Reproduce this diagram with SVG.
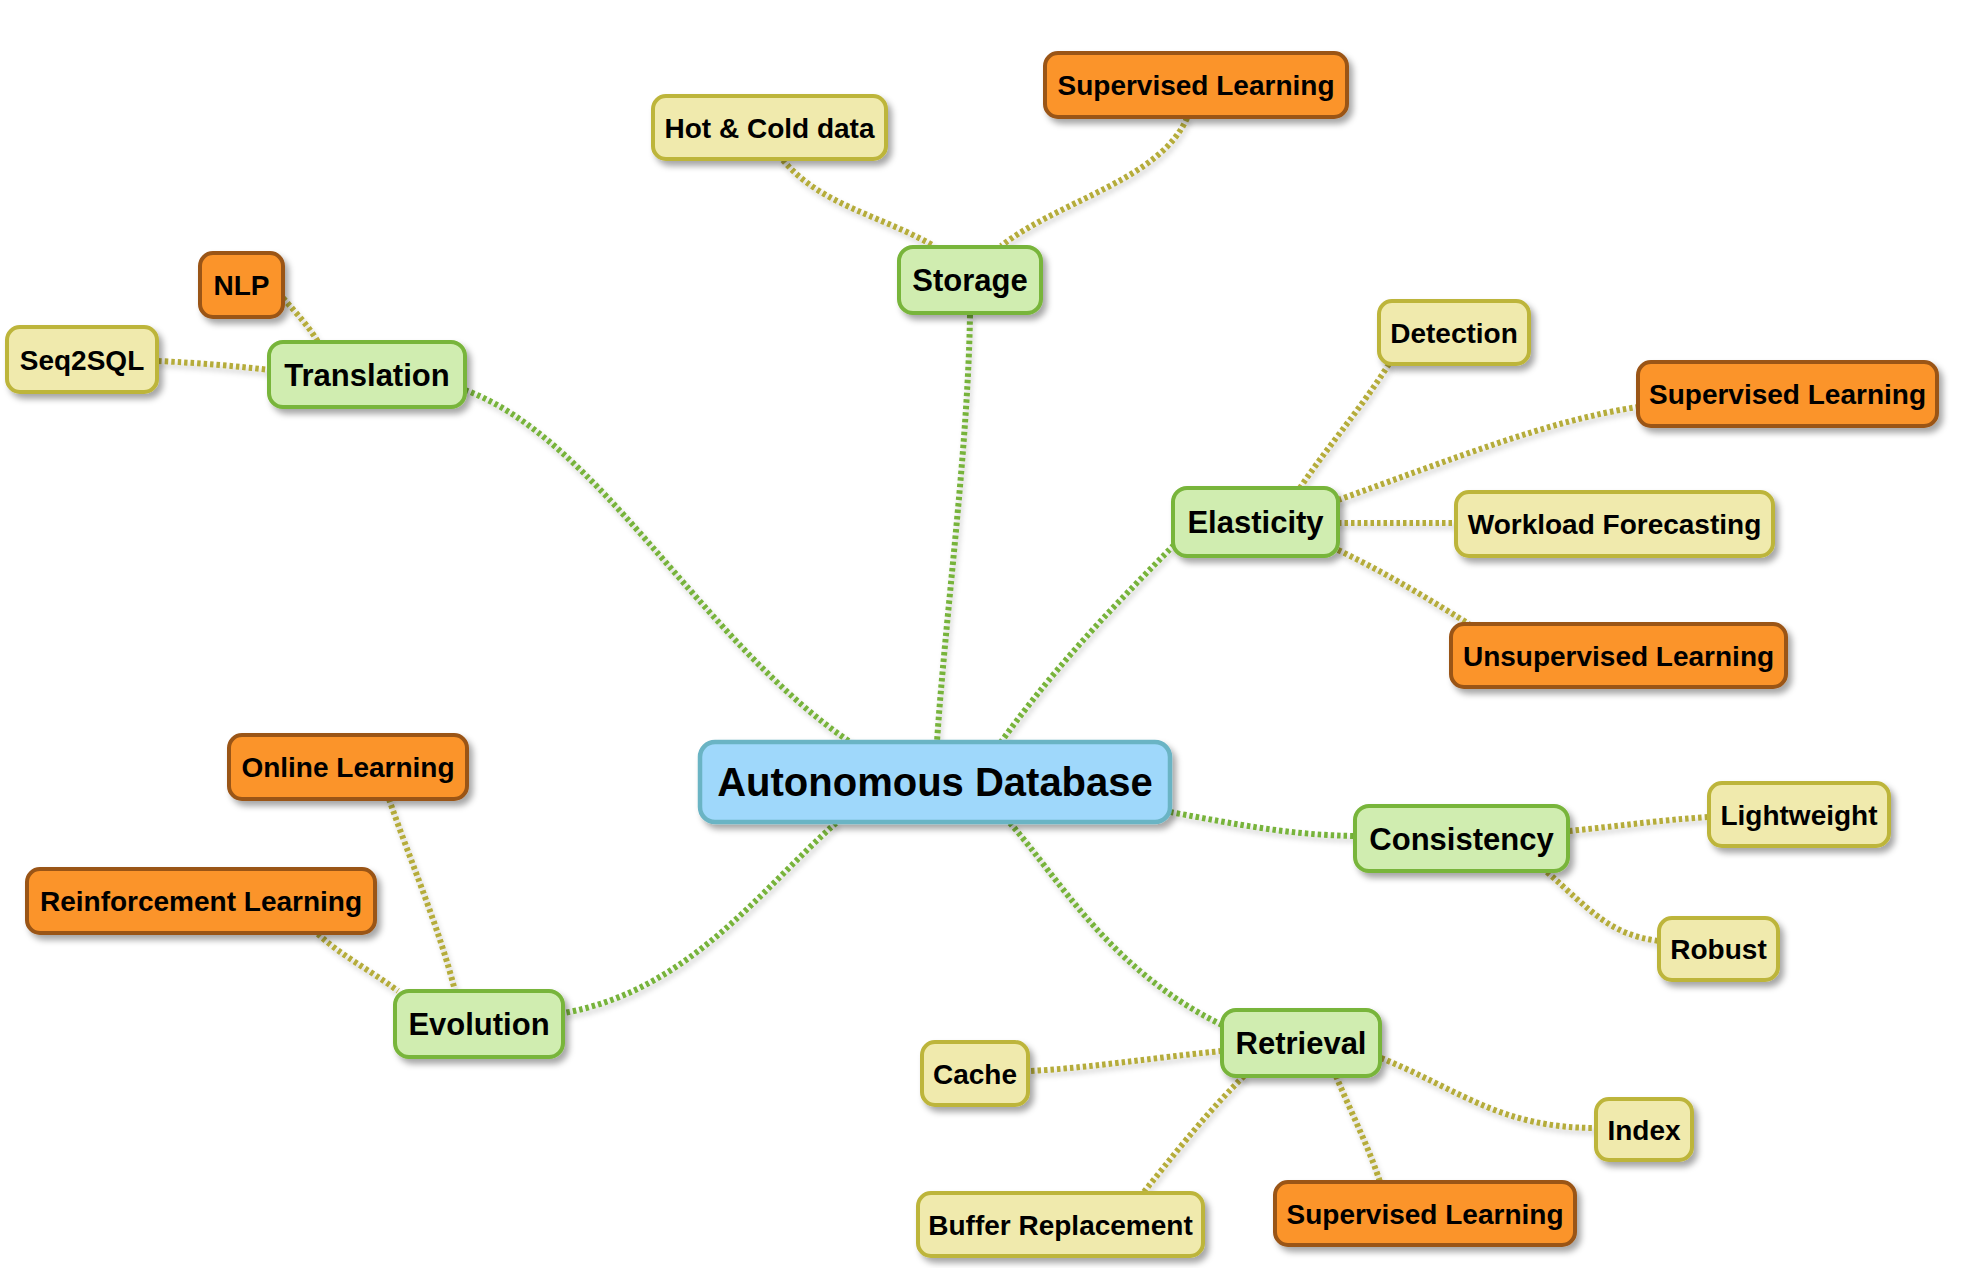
<svg xmlns="http://www.w3.org/2000/svg" width="1980" height="1268" viewBox="0 0 1980 1268">
<defs>
<filter id="sh" x="-20%" y="-30%" width="140%" height="170%">
<feDropShadow dx="4" dy="5" stdDeviation="3" flood-color="#000" flood-opacity="0.35"/>
</filter>
<filter id="lsh" x="-20%" y="-20%" width="140%" height="140%">
<feDropShadow dx="2" dy="4" stdDeviation="2.5" flood-color="#000" flood-opacity="0.22"/>
</filter>
<style>
.root{fill:#9fd8fb;stroke:#6ab4c4;stroke-width:4.5}
.l1{fill:#d0edb0;stroke:#78b53a;stroke-width:4}
.yl{fill:#f0eaad;stroke:#bdb53a;stroke-width:4}
.or{fill:#fb9429;stroke:#9a5416;stroke-width:4}
text{font-family:"Liberation Sans",Arial,sans-serif;font-weight:bold;fill:#000;text-anchor:middle}
.t0{font-size:40px}
.t1{font-size:31px}
.t2{font-size:28px}
.cg{fill:none;stroke:#77b33a;stroke-width:6;stroke-dasharray:3.5 3}
.cy{fill:none;stroke:#b5ac3a;stroke-width:6;stroke-dasharray:3.5 3}
</style>
</defs>
<rect width="1980" height="1268" fill="#fff"/>
<g id="connectors" filter="url(#lsh)">
<path class="cg" d="M465,390 C600,440 700,640 850,742"/>
<path class="cg" d="M970,315 C968,450 945,620 937,742"/>
<path class="cg" d="M1174,545 C1120,600 1060,660 1001,742"/>
<path class="cg" d="M1170,812 C1240,825 1290,835 1355,836"/>
<path class="cg" d="M1010,823 C1060,880 1110,970 1222,1025"/>
<path class="cg" d="M836,823 C760,890 690,990 564,1013"/>
<path class="cy" d="M783,160 C820,205 880,215 934,246"/>
<path class="cy" d="M1187,118 C1160,180 1060,200 1001,246"/>
<path class="cy" d="M283,298 C298,315 310,328 318,342"/>
<path class="cy" d="M158,361 C200,363 235,366 270,370"/>
<path class="cy" d="M1389,364 C1360,410 1325,450 1300,488"/>
<path class="cy" d="M1338,500 C1450,460 1550,420 1638,407"/>
<path class="cy" d="M1338,523 L1456,523"/>
<path class="cy" d="M1338,550 C1390,575 1430,600 1469,624"/>
<path class="cy" d="M1569,831 C1620,826 1660,820 1709,817"/>
<path class="cy" d="M1547,872 C1590,910 1610,935 1659,941"/>
<path class="cy" d="M1222,1051 C1150,1058 1090,1068 1029,1071"/>
<path class="cy" d="M1381,1058 C1460,1090 1500,1128 1596,1128"/>
<path class="cy" d="M1244,1076 C1200,1120 1170,1160 1143,1193"/>
<path class="cy" d="M1336,1076 C1350,1110 1370,1150 1380,1182"/>
<path class="cy" d="M389,799 C410,860 440,930 455,991"/>
<path class="cy" d="M318,934 C340,955 370,970 398,991"/>
</g>
<g id="root"><rect class="root" filter="url(#sh)" x="700" y="742" width="470" height="80" rx="15"/><text class="t0" x="935" y="796">Autonomous Database</text></g>
<g id="storage"><rect class="l1" filter="url(#sh)" x="899" y="247" width="142" height="66" rx="14"/><text class="t1" x="970" y="291">Storage</text></g>
<g id="hotcold"><rect class="yl" filter="url(#sh)" x="653" y="96" width="233" height="63" rx="13"/><text class="t2" x="769.5" y="138">Hot &amp; Cold data</text></g>
<g id="sup-storage"><rect class="or" filter="url(#sh)" x="1045" y="53" width="302" height="64" rx="13"/><text class="t2" x="1196" y="95">Supervised Learning</text></g>
<g id="translation"><rect class="l1" filter="url(#sh)" x="269" y="342" width="196" height="65" rx="14"/><text class="t1" x="367" y="386">Translation</text></g>
<g id="nlp"><rect class="or" filter="url(#sh)" x="200" y="253" width="83" height="64" rx="13"/><text class="t2" x="241.5" y="295">NLP</text></g>
<g id="seq2sql"><rect class="yl" filter="url(#sh)" x="7" y="327" width="150" height="65" rx="13"/><text class="t2" x="82" y="370">Seq2SQL</text></g>
<g id="elasticity"><rect class="l1" filter="url(#sh)" x="1173" y="488" width="165" height="68" rx="14"/><text class="t1" x="1255.5" y="533">Elasticity</text></g>
<g id="detection"><rect class="yl" filter="url(#sh)" x="1379" y="301" width="150" height="63" rx="13"/><text class="t2" x="1454" y="343">Detection</text></g>
<g id="sup-elasticity"><rect class="or" filter="url(#sh)" x="1638" y="362" width="299" height="64" rx="13"/><text class="t2" x="1787.5" y="404">Supervised Learning</text></g>
<g id="workload"><rect class="yl" filter="url(#sh)" x="1456" y="492" width="317" height="64" rx="13"/><text class="t2" x="1614.5" y="534">Workload Forecasting</text></g>
<g id="unsupervised"><rect class="or" filter="url(#sh)" x="1451" y="624" width="335" height="63" rx="13"/><text class="t2" x="1618.5" y="666">Unsupervised Learning</text></g>
<g id="consistency"><rect class="l1" filter="url(#sh)" x="1355" y="806" width="213" height="65" rx="14"/><text class="t1" x="1461.5" y="850">Consistency</text></g>
<g id="lightweight"><rect class="yl" filter="url(#sh)" x="1709" y="783" width="180" height="63" rx="13"/><text class="t2" x="1799" y="825">Lightweight</text></g>
<g id="robust"><rect class="yl" filter="url(#sh)" x="1659" y="918" width="119" height="62" rx="13"/><text class="t2" x="1718.5" y="959">Robust</text></g>
<g id="retrieval"><rect class="l1" filter="url(#sh)" x="1222" y="1010" width="158" height="66" rx="14"/><text class="t1" x="1301" y="1054">Retrieval</text></g>
<g id="cache"><rect class="yl" filter="url(#sh)" x="922" y="1042" width="106" height="63" rx="13"/><text class="t2" x="975" y="1084">Cache</text></g>
<g id="index"><rect class="yl" filter="url(#sh)" x="1596" y="1099" width="96" height="61" rx="13"/><text class="t2" x="1644" y="1140">Index</text></g>
<g id="buffer"><rect class="yl" filter="url(#sh)" x="918" y="1193" width="285" height="63" rx="13"/><text class="t2" x="1060.5" y="1235">Buffer Replacement</text></g>
<g id="sup-retrieval"><rect class="or" filter="url(#sh)" x="1275" y="1182" width="300" height="63" rx="13"/><text class="t2" x="1425" y="1224">Supervised Learning</text></g>
<g id="evolution"><rect class="l1" filter="url(#sh)" x="395" y="991" width="168" height="66" rx="14"/><text class="t1" x="479" y="1035">Evolution</text></g>
<g id="online"><rect class="or" filter="url(#sh)" x="229" y="735" width="238" height="64" rx="13"/><text class="t2" x="348" y="777">Online Learning</text></g>
<g id="reinforcement"><rect class="or" filter="url(#sh)" x="27" y="869" width="348" height="64" rx="13"/><text class="t2" x="201" y="911">Reinforcement Learning</text></g>
</svg>
